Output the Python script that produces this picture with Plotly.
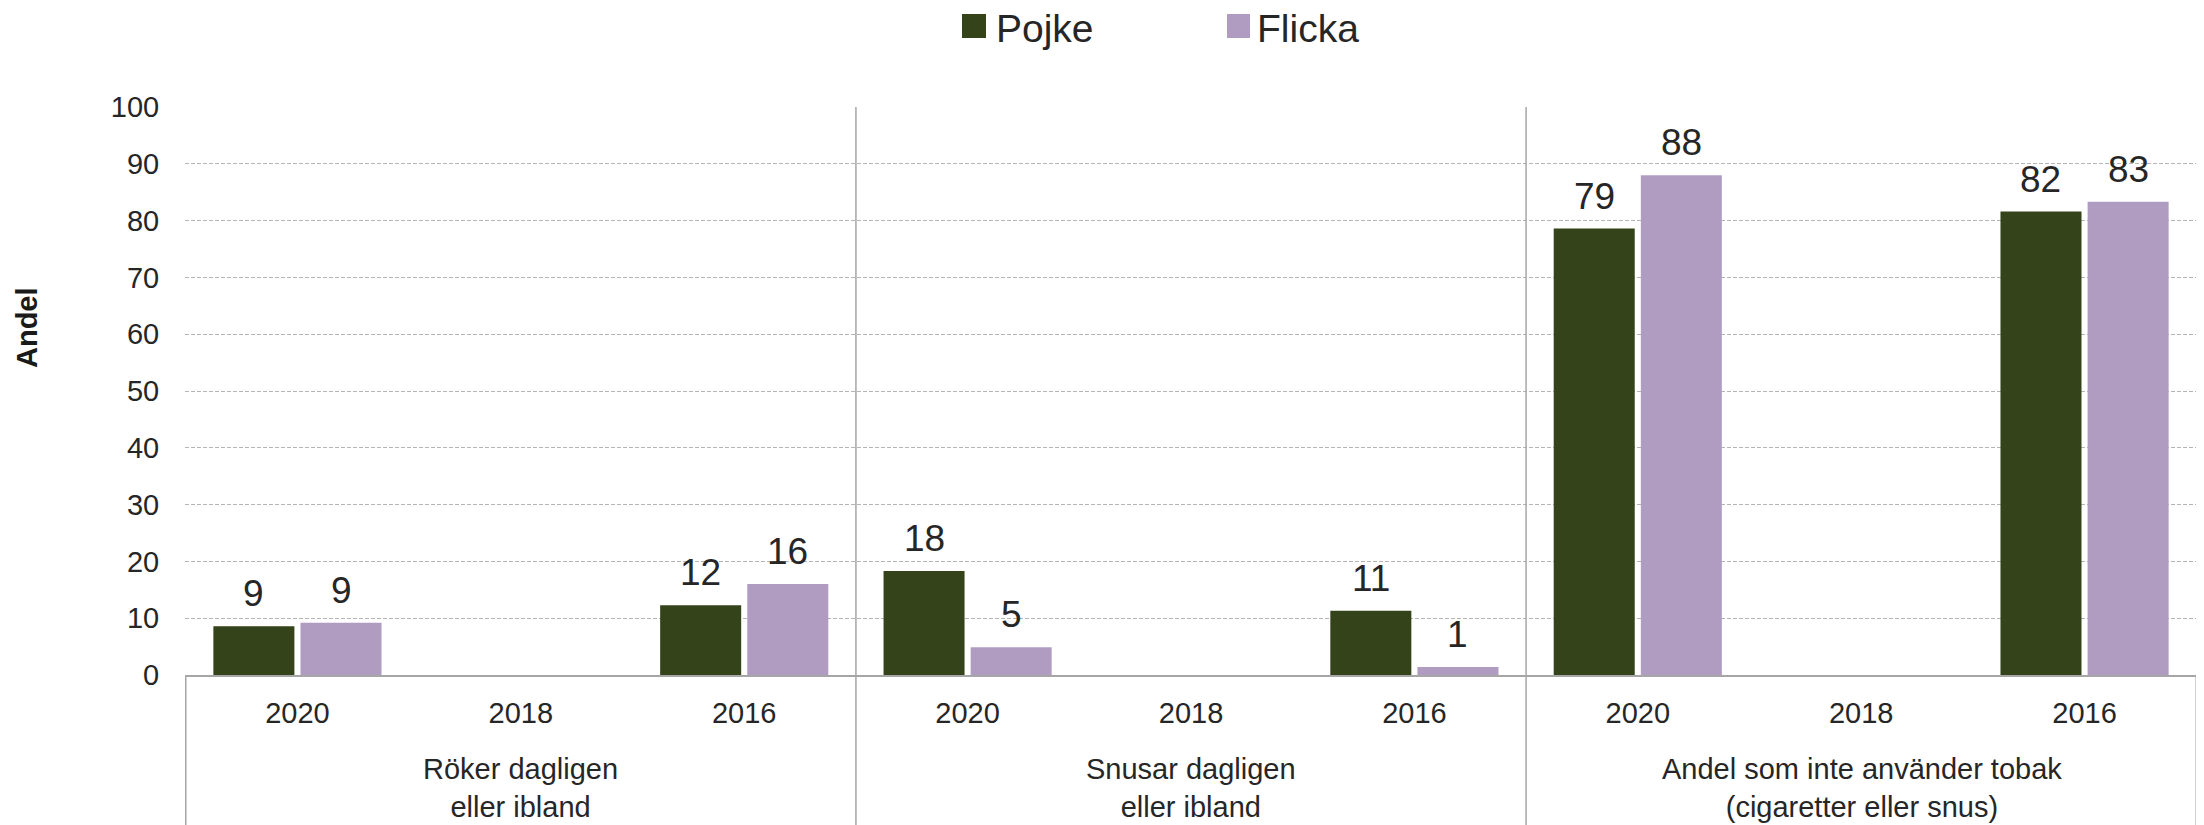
import plotly.graph_objects as go

groups = ["Röker dagligen<br>eller ibland", "Snusar dagligen<br>eller ibland",
          "Andel som inte använder tobak<br>(cigaretter eller snus)"]
years = ["2020", "2018", "2016"]
pojke = [8.6, None, 12.3, 18.3, None, 11.3, 78.6, None, 81.6]
flicka = [9.2, None, 16.0, 4.9, None, 1.4, 88.0, None, 83.3]
series_names = ["Pojke", "Flicka"]
colors = ["#344319", "#b09cc1"]

cats = [f"{g}|{y}" for g in groups for y in years]
tick_text = [y for g in groups for y in years]

FONT = "Liberation Sans, Arial, sans-serif"
TXT = "#262626"

fig = go.Figure()
for name, vals, col in zip(series_names, [pojke, flicka], colors):
    fig.add_trace(go.Bar(x=cats, y=vals, name=name, marker=dict(color=col, line=dict(width=0)),
                         showlegend=False))

OFF = 8  # page body margin
W, H = 2204 - OFF, 825 - OFF
ml, mr, mt = 185 - OFF, 7, 107 - OFF
ph = 568
mb = H - mt - ph
pw = W - ml - mr
bargap = 0.22
cat_w = pw / len(cats)
slot = cat_w * (1 - bargap) / 2

fig.update_layout(
    width=W, height=H,
    margin=dict(l=ml, r=mr, t=mt, b=mb, pad=0),
    barmode="group", bargap=bargap, bargroupgap=0.07,
    plot_bgcolor="white", paper_bgcolor="white",
    font=dict(family=FONT, size=29, color=TXT),
    showlegend=False,
)
fig.update_xaxes(
    type="category", categoryorder="array", categoryarray=cats,
    tickmode="array", tickvals=cats, ticktext=tick_text,
    showline=True, linecolor="#a6a6a6", linewidth=2,
    ticks="outside", ticklen=11, tickcolor="rgba(0,0,0,0)",
    showgrid=False, tickfont=dict(size=29, color=TXT),
)
fig.update_yaxes(
    range=[0, 100], dtick=10, tick0=0,
    showgrid=True, gridcolor="#b4b4b4", gridwidth=1, griddash="4px,2px",
    zeroline=False, showline=False,
    ticks="outside", ticklen=19, tickcolor="rgba(0,0,0,0)",
    tickfont=dict(size=29, color=TXT),
)

# data labels
anns = []
for i, vals in enumerate([pojke, flicka]):
    off = (-0.5 if i == 0 else 0.5) * slot
    for c, v in zip(cats, vals):
        if v is None:
            continue
        anns.append(dict(x=c, y=v, xref="x", yref="y", text=f"{v:.0f}", showarrow=False,
                         yanchor="bottom", xanchor="center", xshift=off, yshift=10,
                         font=dict(size=37, color=TXT, family=FONT)))

# group labels
for gi, g in enumerate(groups):
    anns.append(dict(x=(gi * 3 + 1.5) / 9, y=0, xref="paper", yref="paper", text=g,
                     showarrow=False, xanchor="center", yanchor="top", yshift=-76,
                     font=dict(size=29, color=TXT, family=FONT)))

# y title
anns.append(dict(x=(27 - OFF - ml) / pw, y=(H - (328 - OFF) - mb) / ph, xref="paper", yref="paper",
                 text="<b>Andel</b>", showarrow=False, textangle=-90,
                 xanchor="center", yanchor="middle",
                 font=dict(size=29, color="#1a1a1a", family=FONT)))

# legend (custom, large squares)
leg_y0 = (H - mb - (38 - OFF)) / ph
leg_y1 = (H - mb - (14 - OFF)) / ph
leg_text_y = (H - mb - (28 - OFF)) / ph
leg_items = [(962, 986, 994), (1227, 1250, 1255)]
shapes = []
for (x0, x1, tx), name, col in zip(leg_items, series_names, colors):
    shapes.append(dict(type="rect", xref="paper", yref="paper",
                       x0=(x0 - OFF - ml) / pw, x1=(x1 - OFF - ml) / pw, y0=leg_y0, y1=leg_y1,
                       fillcolor=col, line=dict(width=0)))
    anns.append(dict(x=(tx - OFF - ml) / pw, y=leg_text_y, xref="paper", yref="paper",
                     text=name, showarrow=False, xanchor="left", yanchor="middle",
                     font=dict(size=39, color=TXT, family=FONT)))

bottom = -mb / ph
for xd in [2.5, 5.5]:
    shapes.append(dict(type="line", xref="x", yref="paper", x0=xd, x1=xd, y0=bottom, y1=1,
                       line=dict(color="#a6a6a6", width=1.5)))
for xd in [-0.5, 8.5]:
    shapes.append(dict(type="line", xref="x", yref="paper", x0=xd, x1=xd, y0=bottom, y1=0,
                       line=dict(color="#a6a6a6", width=1.5)))

fig.update_layout(annotations=anns, shapes=shapes)
fig.write_html("out.html")
